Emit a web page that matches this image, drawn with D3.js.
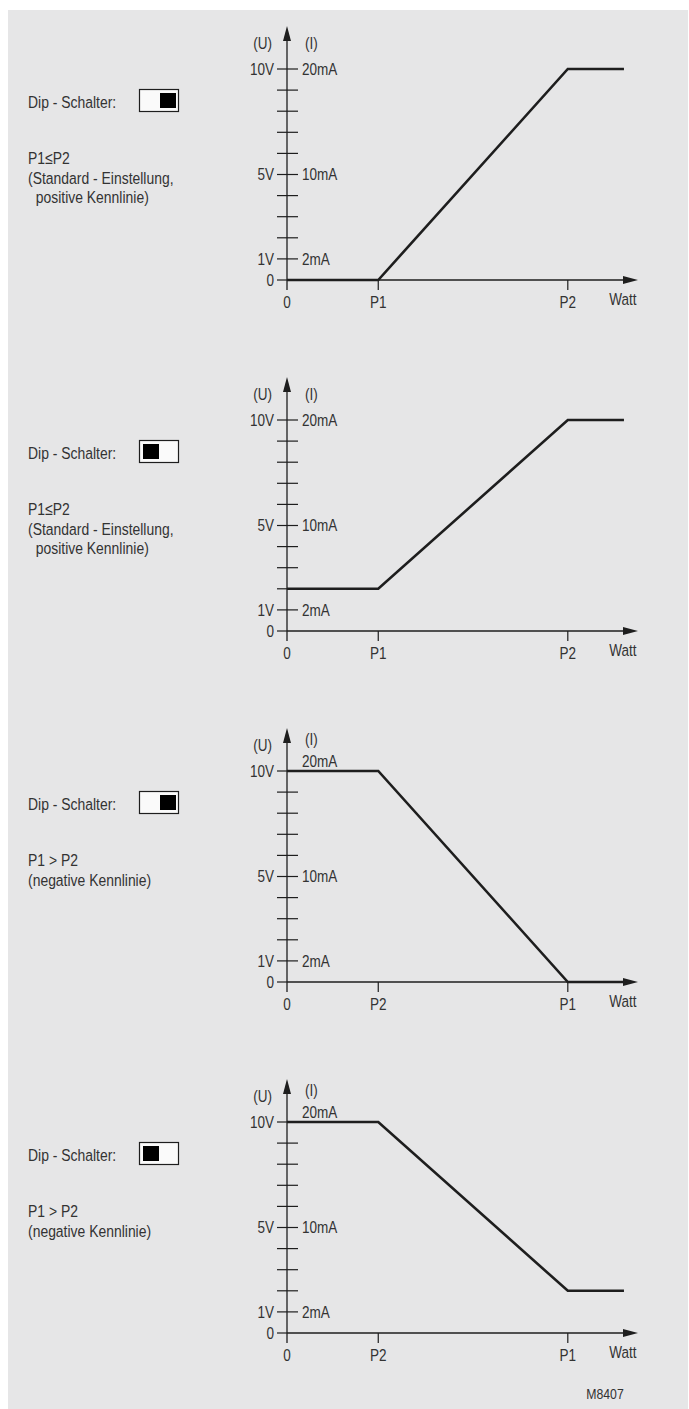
<!DOCTYPE html>
<html>
<head>
<meta charset="utf-8">
<script src="https://cdn.jsdelivr.net/npm/d3@7"></script>
<style>
  html, body { margin: 0; padding: 0; background: #ffffff; }
  svg { display: block; }
  text { font-family: 'Liberation Sans', Arial, sans-serif; fill: #333; }
</style>
</head>
<body>
<script>
// ---------- data ----------
const xTickValues = [0, 26, 80];            // 0, first break point, second break point
const xTickLabelsPos = ["0", "P1", "P2"];   // panels 1 & 2
const xTickLabelsNeg = ["0", "P2", "P1"];   // panels 3 & 4
const yTicks = [0, 1, 2, 3, 4, 5, 6, 7, 8, 9, 10];
const yLabelsU = {0: "0", 1: "1V", 5: "5V", 10: "10V"};
const yLabelsI = {1: "2mA", 5: "10mA", 10: "20mA"};

const curve1 = [[0, 0], [26, 0], [80, 10], [96, 10]];
const curve2 = [[0, 2], [26, 2], [80, 10], [96, 10]];
const curve3 = [[0, 10], [26, 10], [80, 0], [96, 0]];
const curve4 = [[0, 10], [26, 10], [80, 2], [96, 2]];

const switchStates = ["right", "left", "right", "left"];
const conditionTexts = [
  ["P1\u2264P2", "(Standard - Einstellung,", "  positive Kennlinie)"],
  ["P1\u2264P2", "(Standard - Einstellung,", "  positive Kennlinie)"],
  ["P1 > P2", "(negative Kennlinie)"],
  ["P1 > P2", "(negative Kennlinie)"]
];
const panelCurves = [curve1, curve2, curve3, curve4];
const panelXLabels = [xTickLabelsPos, xTickLabelsPos, xTickLabelsNeg, xTickLabelsNeg];
const dipLabel = "Dip - Schalter:";
const figureCode = "M8407";

// ---------- layout ----------
const W = 689, H = 1409;
const svg = d3.select("body").append("svg").attr("width", W).attr("height", H);
svg.append("rect").attr("x", 8).attr("y", 10).attr("width", 680).attr("height", H - 10).attr("fill", "#e6e6e7");

const x = d3.scaleLinear().domain([0, 100]).range([287, 638]);
const ink = "#1e1e1e";
const fs = 16.5;
const narrow = 0.82;

// condensed text helper (horizontal squeeze to imitate a narrow typeface)
function label(g, px, py, str, size, anchor, dy) {
  return g.append("text")
    .attr("transform", `translate(${px},${py}) scale(${narrow},1)`)
    .attr("x", 0).attr("y", 0)
    .attr("dy", dy || 0)
    .attr("text-anchor", anchor || "start")
    .attr("font-size", size)
    .attr("xml:space", "preserve")
    .style("white-space", "pre")
    .text(str);
}

panelCurves.forEach((curve, i) => {
  const zeroY = 280 + 351 * i;
  const y = d3.scaleLinear().domain([0, 10]).range([zeroY, zeroY - 211]);
  const g = svg.append("g");
  const ax = x(0);
  const neg = i >= 2;

  // y axis line
  g.append("line").attr("x1", ax).attr("x2", ax).attr("y1", zeroY + 10).attr("y2", y(10) - 30)
    .attr("stroke", ink).attr("stroke-width", 1.3);
  g.append("path").attr("d", `M${ax},${y(10) - 43} L${ax - 4},${y(10) - 28} L${ax + 4},${y(10) - 28} Z`).attr("fill", ink);

  // y ticks
  g.selectAll(".yt").data(yTicks).enter().append("line")
    .attr("x1", ax - 10)
    .attr("x2", d => d === 0 ? ax : ax + 11)
    .attr("y1", d => y(d)).attr("y2", d => y(d))
    .attr("stroke", ink).attr("stroke-width", 1.2);

  yTicks.filter(d => yLabelsU[d] !== undefined).forEach(d => {
    label(g, ax - 13, y(d), yLabelsU[d], fs, "end", "0.36em");
  });
  yTicks.filter(d => yLabelsI[d] !== undefined).forEach(d => {
    if (neg && d === 10) label(g, ax + 15, y(d) - 4, yLabelsI[d], fs, "start", 0);
    else label(g, ax + 15, y(d), yLabelsI[d], fs, "start", "0.36em");
  });

  label(g, ax - 15, y(10) - 25.5, "(U)", fs, "end", "0.36em");
  label(g, ax + 18, y(10) - (neg ? 31.5 : 25.5), "(I)", fs, "start", "0.36em");

  // x axis
  g.append("line").attr("x1", ax).attr("x2", x(100) - 10).attr("y1", zeroY).attr("y2", zeroY)
    .attr("stroke", ink).attr("stroke-width", 1.3);
  g.append("path").attr("d", `M${x(100)},${zeroY} L${x(100) - 15},${zeroY - 4} L${x(100) - 15},${zeroY + 4} Z`).attr("fill", ink);

  g.selectAll(".xt").data(xTickValues.slice(1)).enter().append("line")
    .attr("x1", d => x(d)).attr("x2", d => x(d)).attr("y1", zeroY).attr("y2", zeroY + 10)
    .attr("stroke", ink).attr("stroke-width", 1.2);
  xTickValues.forEach((d, k) => {
    label(g, x(d), zeroY + 28, panelXLabels[i][k], fs, "middle", 0);
  });
  label(g, x(96) - 1, zeroY + 25, "Watt", fs, "middle", 0);

  // characteristic line
  const line = d3.line().x(d => x(d[0])).y(d => y(d[1]));
  g.append("path").datum(curve).attr("d", line).attr("fill", "none")
    .attr("stroke", ink).attr("stroke-width", 2.6).attr("stroke-linejoin", "miter");

  // left description
  const top = y(10);
  label(g, 28, top + 39, dipLabel, 17, "start", 0);
  g.append("rect").attr("x", 139.5).attr("y", top + 20.5).attr("width", 39).attr("height", 22)
    .attr("fill", "#fafafa").attr("stroke", ink).attr("stroke-width", 1.2);
  g.append("rect").attr("x", switchStates[i] === "right" ? 160 : 143).attr("y", top + 24)
    .attr("width", 16).attr("height", 15).attr("fill", "#000");
  conditionTexts[i].forEach((t, k) => {
    label(g, 28, top + 95 + k * 19.5, t, 17, "start", 0);
  });
});

label(svg, 605, 1399, figureCode, 15, "middle", 0);
</script>
</body>
</html>
